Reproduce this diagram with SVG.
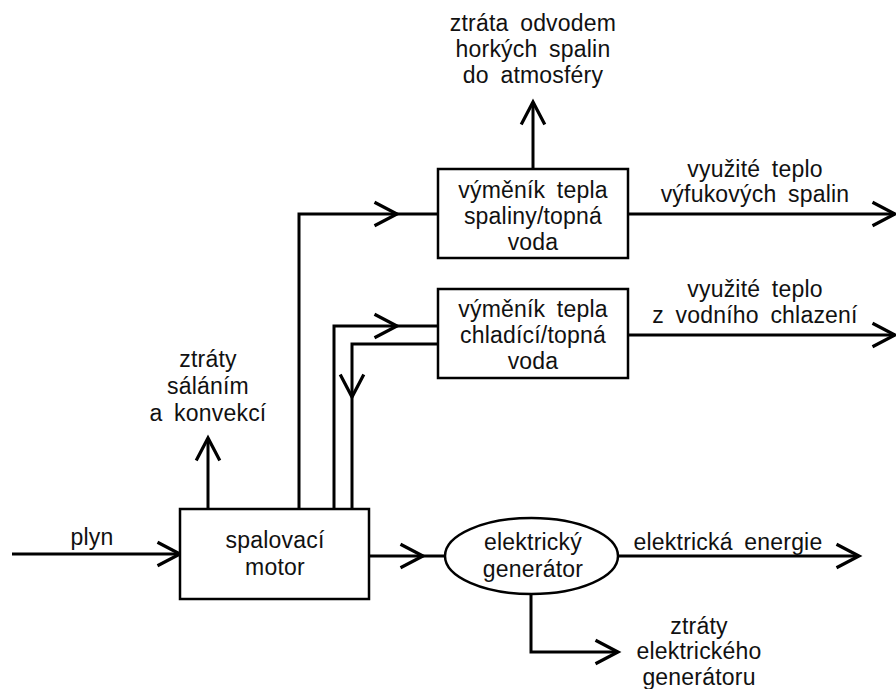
<svg xmlns="http://www.w3.org/2000/svg" width="896" height="689" viewBox="0 0 896 689">
  <style>
    .bg { fill: #ffffff; }
    .box { fill: #ffffff; stroke: #000000; stroke-width: 2.5; }
    .wire { fill: none; stroke: #000000; stroke-width: 3; stroke-linejoin: miter; }
    .lbl { font-family: "Liberation Sans", Arial, sans-serif; font-size: 23px; fill: #111111; text-anchor: middle; letter-spacing: 0.2px; word-spacing: 5px; }
  </style>
  <defs>
    <marker id="arrow" markerUnits="userSpaceOnUse" markerWidth="30" markerHeight="30" viewBox="-24 -14 28 28" refX="0" refY="0" orient="auto" overflow="visible">
      <path d="M-21,-11 L0,0 L-21,11" fill="none" stroke="#000000" stroke-width="3" stroke-linejoin="miter"/>
    </marker>
  </defs>

  <rect class="bg" x="0" y="0" width="896" height="689"/>

  <!-- connectors -->
  <g id="connectors">
    <!-- fuel into engine -->
    <path class="wire" d="M12,554 H180" marker-end="url(#arrow)"/>
    <!-- radiation / convection losses -->
    <path class="wire" d="M208,509 V438" marker-end="url(#arrow)"/>
    <!-- exhaust gas to flue gas exchanger -->
    <path class="wire" d="M299,509 V214 H397" marker-end="url(#arrow)"/>
    <path class="wire" d="M396,214 H438"/>
    <!-- cooling water to water exchanger -->
    <path class="wire" d="M334,509 V326 H397" marker-end="url(#arrow)"/>
    <path class="wire" d="M396,326 H438"/>
    <!-- return water back to engine -->
    <path class="wire" d="M438,344 H352 V397" marker-end="url(#arrow)"/>
    <path class="wire" d="M352,396 V509"/>
    <!-- flue gas losses to atmosphere -->
    <path class="wire" d="M533,169 V102" marker-end="url(#arrow)"/>
    <!-- useful heat outputs -->
    <path class="wire" d="M628,214 H895" marker-end="url(#arrow)"/>
    <path class="wire" d="M628,335 H895" marker-end="url(#arrow)"/>
    <!-- shaft to generator -->
    <path class="wire" d="M369,556 H423" marker-end="url(#arrow)"/>
    <path class="wire" d="M422,556 H445"/>
    <!-- electric energy output -->
    <path class="wire" d="M618,556 H859" marker-end="url(#arrow)"/>
    <!-- generator losses -->
    <path class="wire" d="M531,594 V652 H618" marker-end="url(#arrow)"/>
  </g>

  <!-- nodes -->
  <g id="engine">
    <rect class="box" x="180" y="509" width="189" height="90"/>
    <text class="lbl" x="275" y="548">spalovací</text>
    <text class="lbl" x="275" y="575">motor</text>
  </g>

  <g id="exhaust-exchanger">
    <rect class="box" x="438" y="169" width="190" height="89"/>
    <text class="lbl" x="533" y="198">výměník tepla</text>
    <text class="lbl" x="533" y="224">spaliny/topná</text>
    <text class="lbl" x="533" y="250">voda</text>
  </g>

  <g id="water-exchanger">
    <rect class="box" x="438" y="289" width="190" height="89"/>
    <text class="lbl" x="533" y="317">výměník tepla</text>
    <text class="lbl" x="533" y="343">chladící/topná</text>
    <text class="lbl" x="533" y="369">voda</text>
  </g>

  <g id="generator">
    <ellipse class="box" cx="531.5" cy="556" rx="86.5" ry="38"/>
    <text class="lbl" x="533" y="550">elektrický</text>
    <text class="lbl" x="533" y="577">generátor</text>
  </g>

  <!-- flow labels -->
  <g id="labels">
    <text class="lbl" x="92" y="545">plyn</text>
    <text class="lbl" x="208" y="367">ztráty</text>
    <text class="lbl" x="208" y="394">sáláním</text>
    <text class="lbl" x="208" y="421">a konvekcí</text>
    <text class="lbl" x="533" y="31">ztráta odvodem</text>
    <text class="lbl" x="533" y="57">horkých spalin</text>
    <text class="lbl" x="533" y="83">do atmosféry</text>
    <text class="lbl" x="755" y="177">využité teplo</text>
    <text class="lbl" x="755" y="202">výfukových spalin</text>
    <text class="lbl" x="755" y="297">využité teplo</text>
    <text class="lbl" x="755" y="323">z vodního chlazení</text>
    <text class="lbl" x="728" y="550">elektrická energie</text>
    <text class="lbl" x="699" y="634">ztráty</text>
    <text class="lbl" x="699" y="659">elektrického</text>
    <text class="lbl" x="699" y="685">generátoru</text>
  </g>
</svg>
